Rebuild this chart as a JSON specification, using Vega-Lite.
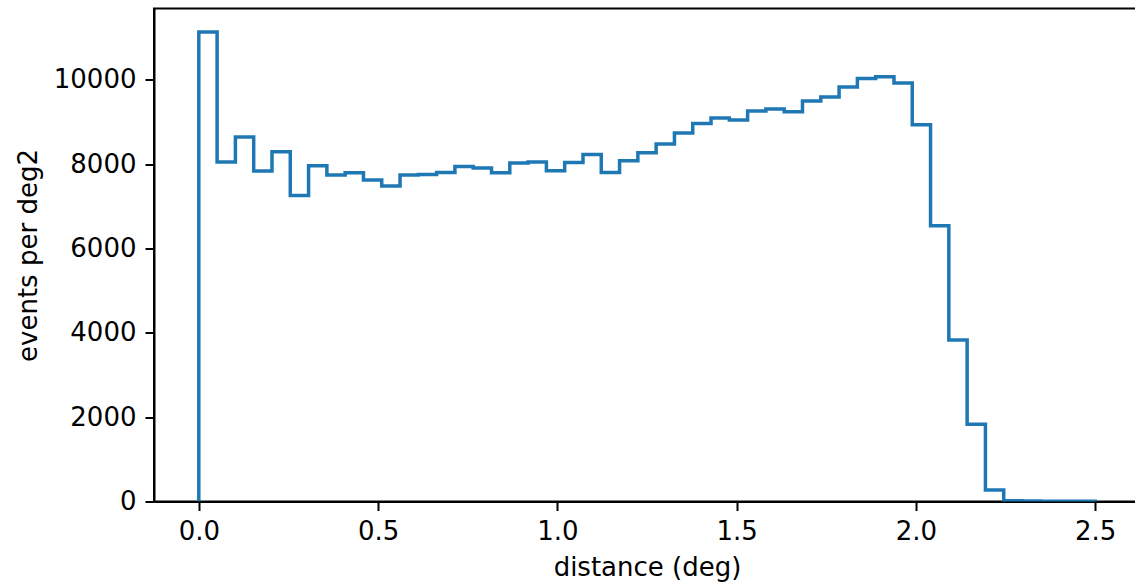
{
  "$schema": "https://vega.github.io/schema/vega-lite/v6.json",
  "width": 986,
  "height": 493,
  "autosize": {"type": "none"},
  "padding": {"left": 154, "top": 8.5, "right": 0, "bottom": 82},
  "background": "white",
  "config": {
    "font": "DejaVu Sans",
    "view": {"stroke": "black", "strokeWidth": 2},
    "axis": {
      "grid": false,
      "domainColor": "black",
      "domainWidth": 2,
      "tickColor": "black",
      "tickWidth": 2,
      "tickSize": 9,
      "labelColor": "black",
      "labelFontSize": 26,
      "labelFont": "DejaVu Sans",
      "titleColor": "black",
      "titleFontSize": 26,
      "titleFont": "DejaVu Sans",
      "titleFontWeight": "normal"
    }
  },
  "data": {
    "values": [
      {"i": 0, "distance": 0, "events": 0},
      {"i": 1, "distance": 0, "events": 11132},
      {"i": 2, "distance": 0.05102, "events": 8047},
      {"i": 3, "distance": 0.10204, "events": 8640},
      {"i": 4, "distance": 0.15306, "events": 7834},
      {"i": 5, "distance": 0.20408, "events": 8292},
      {"i": 6, "distance": 0.2551, "events": 7255},
      {"i": 7, "distance": 0.30612, "events": 7960},
      {"i": 8, "distance": 0.35714, "events": 7739},
      {"i": 9, "distance": 0.40816, "events": 7794},
      {"i": 10, "distance": 0.45918, "events": 7620},
      {"i": 11, "distance": 0.5102, "events": 7480},
      {"i": 12, "distance": 0.56122, "events": 7739},
      {"i": 13, "distance": 0.61224, "events": 7754},
      {"i": 14, "distance": 0.66327, "events": 7801},
      {"i": 15, "distance": 0.71429, "events": 7943},
      {"i": 16, "distance": 0.76531, "events": 7905},
      {"i": 17, "distance": 0.81633, "events": 7794},
      {"i": 18, "distance": 0.86735, "events": 8024},
      {"i": 19, "distance": 0.91837, "events": 8047},
      {"i": 20, "distance": 0.96939, "events": 7841},
      {"i": 21, "distance": 1.02041, "events": 8038},
      {"i": 22, "distance": 1.07143, "events": 8230},
      {"i": 23, "distance": 1.12245, "events": 7801},
      {"i": 24, "distance": 1.17347, "events": 8078},
      {"i": 25, "distance": 1.22449, "events": 8268},
      {"i": 26, "distance": 1.27551, "events": 8474},
      {"i": 27, "distance": 1.32653, "events": 8735},
      {"i": 28, "distance": 1.37755, "events": 8963},
      {"i": 29, "distance": 1.42857, "events": 9091},
      {"i": 30, "distance": 1.47959, "events": 9044},
      {"i": 31, "distance": 1.53061, "events": 9257},
      {"i": 32, "distance": 1.58163, "events": 9305},
      {"i": 33, "distance": 1.63265, "events": 9238},
      {"i": 34, "distance": 1.68367, "events": 9494},
      {"i": 35, "distance": 1.73469, "events": 9590},
      {"i": 36, "distance": 1.78571, "events": 9827},
      {"i": 37, "distance": 1.83673, "events": 10031},
      {"i": 38, "distance": 1.88776, "events": 10071},
      {"i": 39, "distance": 1.93878, "events": 9922},
      {"i": 40, "distance": 1.9898, "events": 8932},
      {"i": 41, "distance": 2.04082, "events": 6536},
      {"i": 42, "distance": 2.09184, "events": 3832},
      {"i": 43, "distance": 2.14286, "events": 1831},
      {"i": 44, "distance": 2.19388, "events": 273},
      {"i": 45, "distance": 2.2449, "events": 20},
      {"i": 46, "distance": 2.29592, "events": 12},
      {"i": 47, "distance": 2.34694, "events": 8},
      {"i": 48, "distance": 2.39796, "events": 6},
      {"i": 49, "distance": 2.44898, "events": 4},
      {"i": 50, "distance": 2.5, "events": 4},
      {"i": 51, "distance": 2.5, "events": 0}
    ]
  },
  "mark": {"type": "line", "interpolate": "step-after", "color": "#1f77b4", "strokeWidth": 3.5, "clip": true},
  "encoding": {
    "x": {
      "field": "distance",
      "type": "quantitative",
      "scale": {"domain": [-0.125, 2.625], "nice": false, "zero": false},
      "axis": {"values": [0, 0.5, 1, 1.5, 2, 2.5], "format": ".1f", "title": "distance (deg)", "labelPadding": 8, "titlePadding": 10}
    },
    "y": {
      "field": "events",
      "type": "quantitative",
      "scale": {"domain": [0, 11689], "nice": false},
      "axis": {"values": [0, 2000, 4000, 6000, 8000, 10000], "format": "d", "title": "events per deg2", "labelPadding": 9, "titlePadding": 12}
    },
    "order": {"field": "i", "type": "quantitative"}
  }
}
